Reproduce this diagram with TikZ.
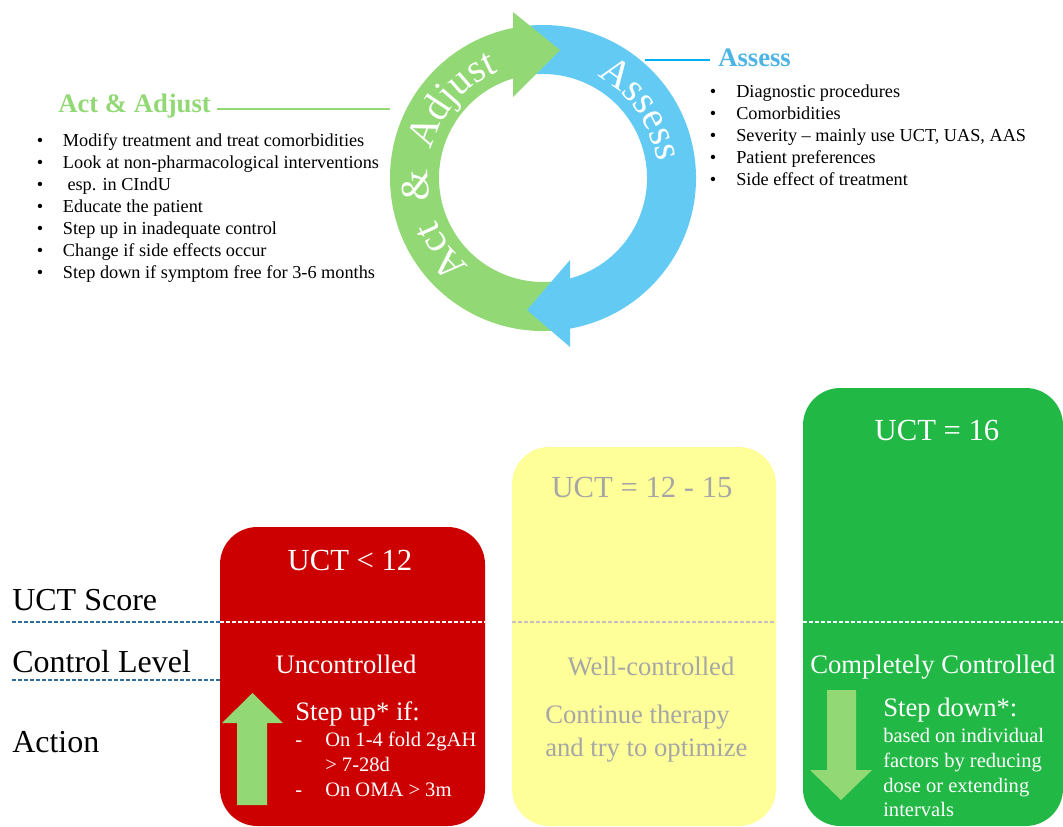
\documentclass[tikz,border=0pt]{standalone}
\usepackage{fontspec}
\setmainfont{Liberation Serif}
\usetikzlibrary{calc,decorations.text}
\definecolor{ringgreen}{RGB}{146,217,118}
\definecolor{ringblue}{RGB}{99,203,243}
\definecolor{headblue}{RGB}{77,181,230}
\definecolor{lineblue}{RGB}{0,176,240}
\definecolor{boxred}{RGB}{204,0,0}
\definecolor{boxyellow}{RGB}{255,255,153}
\definecolor{boxgreen}{RGB}{34,184,69}
\definecolor{softgray}{RGB}{166,166,166}
\definecolor{dashblue}{RGB}{46,110,158}
\begin{document}
\begin{tikzpicture}[x=0.75pt,y=-0.75pt,
  txt/.style={inner sep=0pt, anchor=base west},
  bul/.style={txt, font=\fontsize{13.7}{16}\selectfont},
  bulmark/.style={inner sep=0pt, anchor=base, font=\fontsize{13.7}{16}\selectfont},
  label/.style={txt, font=\fontsize{24}{28}\selectfont},
  title/.style={inner sep=0pt, anchor=base, font=\fontsize{23}{27}\selectfont},
  mid/.style={inner sep=0pt, font=\fontsize{20}{24}\selectfont},
  small/.style={txt, font=\fontsize{15.4}{18}\selectfont, text=white},
  dashline/.style={dash pattern=on 3pt off 1.5pt, line width=1pt},
  blockarrow/.style={fill=ringgreen},
  box/.style={rounded corners=28pt}]
\useasboundingbox (0,0) rectangle (1063,826);
\fill[white] (0,0) rectangle (1063,826);

% ---------- cycle ----------
\coordinate (c) at (543,178);
\fill[ringgreen] ($(c)+(-278.3:153)$) arc[start angle=-278.3, end angle=-101.3, radius=153]
  -- ($(c)+(-106.8:104)$) arc[start angle=-106.8, end angle=-282.2, radius=104] -- cycle;
\fill[ringblue] ($(c)+(-99.4:153)$) arc[start angle=-99.4, end angle=79.8, radius=153]
  -- ($(c)+(74.9:104)$) arc[start angle=74.9, end angle=-103.9, radius=104] -- cycle;
\fill[ringblue] (570,260) -- (527,310) -- (570,347) -- cycle;
\fill[ringgreen] (513,12) -- (560,50) -- (513,97) -- cycle;
\path[decorate, decoration={text along path, text={|\fontsize{30}{32}\selectfont|Assess},
  text color=white, text align=center}]
  ($(c)+(-80:115)$) arc[start angle=-80, end angle=10, radius=115];
\path[decorate, decoration={text along path, text={|\fontsize{30}{32}\selectfont|Act {\ }{\&}{\ } Adjust},
  text color=white, text align=center}]
  ($(c)+(-236:115)$) arc[start angle=-236, end angle=-107, radius=115];

% ---------- Act & Adjust ----------
\node[txt, font=\bfseries\fontsize{20}{24}\selectfont, text=ringgreen] (acthead) at (58,112) {Act \& Adjust};
\coordinate (actA) at (217,109);
\coordinate (actB) at (390,109);
\draw[ringgreen, line width=1.5pt] (actA) -- (actB);
\foreach \t [count=\i] in {Modify treatment and treat comorbidities,
  Look at non-pharmacological interventions,
  \ esp. in CIndU,
  Educate the patient,
  Step up in inadequate control,
  Change if side effects occur,
  Step down if symptom free for 3-6 months}{
  \node[bulmark] (lb\i) at (40,{146+22*(\i-1)}) {•};
  \node[bul] (lt\i) at (62.7,{146+22*(\i-1)}) {\t};
}

% ---------- Assess ----------
\node[txt, font=\bfseries\fontsize{20}{24}\selectfont, text=headblue] (ashead) at (718,66) {Assess};
\coordinate (asA) at (645,60);
\coordinate (asB) at (710,60);
\draw[lineblue, line width=1.5pt] (asA) -- (asB);
\foreach \t [count=\i] in {Diagnostic procedures,
  Comorbidities,
  {Severity – mainly use UCT, UAS, AAS},
  Patient preferences,
  Side effect of treatment}{
  \node[bulmark] (rb\i) at (713,{97+22*(\i-1)}) {•};
  \node[bul] (rt\i) at (736,{97+22*(\i-1)}) {\t};
}

% ---------- boxes ----------
\fill[boxred, box] (220,527) rectangle (485,826);
\fill[boxyellow, box] (512,447) rectangle (776,826);
\fill[boxgreen, box] (803,388) rectangle (1063,826);

\draw[dashblue, dashline] (12,622) -- (220,622);
\draw[white, dashline] (220,622) -- (485,622);
\draw[softgray!70, dashline] (512,622) -- (776,622);
\draw[white, dashline] (803,622) -- (1063,622);
\draw[dashblue, dashline] (12,680) -- (220,680);

\node[label] (lscore) at (12,610) {UCT Score};
\node[label] (lcontrol) at (12,672) {Control Level};
\node[label] (laction) at (12,752) {Action};

% red box
\node[title, text=white] (r1) at (350,570) {UCT < 12};
\node[mid, anchor=base, text=white] (r2) at (346,673) {Uncontrolled};
\fill[blockarrow] (237,805) -- (237,723) -- (222,723) -- (252.5,693) -- (283,723) -- (267,723) -- (267,805) -- cycle;
\node[mid, txt, text=white] (r3) at (295,720) {Step up* if:};
\node[small] (r4a) at (295,746) {-};
\node[small] (r4) at (325,746) {On 1-4 fold 2gAH};
\node[small] (r5) at (325,771) {> 7-28d};
\node[small] (r6a) at (295,796) {-};
\node[small] (r6) at (325,796) {On OMA > 3m};

% yellow box
\node[title, text=softgray] (y1) at (642,497) {UCT = 12 - 15};
\node[mid, anchor=base, text=softgray] (y2) at (651,675) {Well-controlled};
\node[mid, txt, text=softgray] (y3) at (545,723) {Continue therapy};
\node[mid, txt, text=softgray] (y4) at (545,756) {and try to optimize};

% green box
\node[title, text=white] (g1) at (937,440) {UCT = 16};
\node[mid, txt, text=white] (g2) at (810,673) {Completely Controlled};
\fill[blockarrow] (827,690) -- (856,690) -- (856,770) -- (872,770) -- (841,800) -- (810,770) -- (827,770) -- cycle;
\node[mid, txt, text=white] (g3) at (883,716) {Step down*:};
\node[small] (g4) at (883,742) {based on individual};
\node[small] (g5) at (883,767) {factors by reducing};
\node[small] (g6) at (883,792) {dose or extending};
\node[small] (g7) at (883,816) {intervals};
\end{tikzpicture}
\end{document}
